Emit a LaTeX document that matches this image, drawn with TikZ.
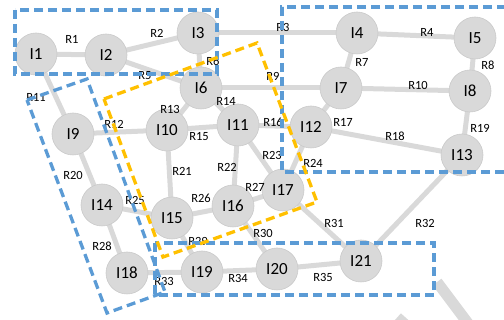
\documentclass[tikz,border=0pt]{standalone}
\usepackage{fontspec}
\setmainfont{Carlito}
\definecolor{nodegray}{HTML}{D9D9D9}
\definecolor{nodeedge}{HTML}{CACACA}
\definecolor{linkgray}{HTML}{D9D9D9}
\definecolor{boxblue}{HTML}{5B9BD5}
\definecolor{boxyellow}{HTML}{FFC000}
\pgfdeclarelayer{bg}
\pgfsetlayers{bg,main}
\begin{document}
\begin{tikzpicture}[x=1pt,y=-1pt,
 inode/.style={circle,fill=nodegray,draw=nodeedge,line width=0.6pt,minimum size=42pt,inner sep=0pt,font=\fontsize{17}{17}\selectfont},
 link/.style={draw=linkgray,line width=5pt},
 rlab/.style={font=\fontsize{12.5}{12.5}\selectfont,inner sep=0pt},
 bluebox/.style={draw=boxblue,line width=3.3pt,dash pattern=on 9pt off 5pt},
 yelbox/.style={draw=boxyellow,line width=3.3pt,dash pattern=on 9pt off 5pt},
 band/.style={draw=linkgray,line width=11pt}]
\useasboundingbox (0,0) rectangle (504,320);
\clip (0,0) rectangle (504,320);
% nodes
\node[inode] (I1) at (36,54) {I1};
\node[inode] (I2) at (106,55) {I2};
\node[inode] (I3) at (198,33) {I3};
\node[inode] (I4) at (357,33) {I4};
\node[inode] (I5) at (475,38) {I5};
\node[inode] (I6) at (201,88) {I6};
\node[inode] (I7) at (341,88) {I7};
\node[inode] (I8) at (470,91) {I8};
\node[inode] (I9) at (73,134) {I9};
\node[inode] (I10) at (167,130) {I10};
\node[inode] (I11) at (238,125) {I11};
\node[inode] (I12) at (311,127) {I12};
\node[inode] (I13) at (462,155) {I13};
\node[inode] (I14) at (102,205) {I14};
\node[inode] (I15) at (172,218) {I15};
\node[inode] (I16) at (233,206) {I16};
\node[inode] (I17) at (283,190) {I17};
\node[inode] (I18) at (127,273) {I18};
\node[inode] (I19) at (202,272) {I19};
\node[inode] (I20) at (277,269) {I20};
\node[inode] (I21) at (361,261) {I21};
% links
\begin{pgfonlayer}{bg}
\draw[band] (437,282) -- (476,334);
\draw[band] (405,317) -- (380,345);
\draw[link] (I1.center) -- (I2.center);
\draw[link] (I2.center) -- (I3.center);
\draw[link] (I3.center) -- (I4.center);
\draw[link] (I4.center) -- (I5.center);
\draw[link] (I2.center) -- (I6.center);
\draw[link] (I3.center) -- (I6.center);
\draw[link] (I4.center) -- (I7.center);
\draw[link] (I5.center) -- (I8.center);
\draw[link] (I6.center) -- (I7.center);
\draw[link] (I7.center) -- (I8.center);
\draw[link] (I1.center) -- (I9.center);
\draw[link] (I9.center) -- (I10.center);
\draw[link] (I10.center) -- (I6.center);
\draw[link] (I6.center) -- (I11.center);
\draw[link] (I10.center) -- (I11.center);
\draw[link] (I11.center) -- (I12.center);
\draw[link] (I12.center) -- (I7.center);
\draw[link] (I12.center) -- (I13.center);
\draw[link] (I8.center) -- (I13.center);
\draw[link] (I9.center) -- (I14.center);
\draw[link] (I10.center) -- (I15.center);
\draw[link] (I11.center) -- (I16.center);
\draw[link] (I11.center) -- (I17.center);
\draw[link] (I12.center) -- (I17.center);
\draw[link] (I14.center) -- (I15.center);
\draw[link] (I15.center) -- (I16.center);
\draw[link] (I16.center) -- (I17.center);
\draw[link] (I14.center) -- (I18.center);
\draw[link] (I15.center) -- (I19.center);
\draw[link] (I16.center) -- (I20.center);
\draw[link] (I17.center) -- (I21.center);
\draw[link] (I13.center) -- (I21.center);
\draw[link] (I18.center) -- (I19.center);
\draw[link] (I19.center) -- (I20.center);
\draw[link] (I20.center) -- (I21.center);
\end{pgfonlayer}
% labels
\node[rlab] (R1) at (72,39) {R1};
\node[rlab] (R2) at (157,33) {R2};
\node[rlab] (R3) at (283,27) {R3};
\node[rlab] (R4) at (427,32) {R4};
\node[rlab] (R5) at (145,76) {R5};
\node[rlab] (R6) at (213,61) {R6};
\node[rlab] (R7) at (362,62) {R7};
\node[rlab] (R8) at (488,65) {R8};
\node[rlab] (R9) at (273,76) {R9};
\node[rlab] (R10) at (418,85) {R10};
\node[rlab] (R11) at (36,97) {R11};
\node[rlab] (R12) at (114,124) {R12};
\node[rlab] (R13) at (170,109) {R13};
\node[rlab] (R14) at (226,101) {R14};
\node[rlab] (R15) at (199,137) {R15};
\node[rlab] (R16) at (273,122) {R16};
\node[rlab] (R17) at (343,122) {R17};
\node[rlab] (R18) at (395,136) {R18};
\node[rlab] (R19) at (480,128) {R19};
\node[rlab] (R20) at (73,175) {R20};
\node[rlab] (R21) at (182,171) {R21};
\node[rlab] (R22) at (227,167) {R22};
\node[rlab] (R23) at (272,155) {R23};
\node[rlab] (R24) at (313,163) {R24};
\node[rlab] (R25) at (135,200) {R25};
\node[rlab] (R26) at (201,198) {R26};
\node[rlab] (R27) at (255,187) {R27};
\node[rlab] (R28) at (102,246) {R28};
\node[rlab] (R29) at (198,241) {R29};
\node[rlab] (R30) at (263,233) {R30};
\node[rlab] (R31) at (334,223) {R31};
\node[rlab] (R32) at (425,223) {R32};
\node[rlab] (R33) at (164,281) {R33};
\node[rlab] (R34) at (238,278) {R34};
\node[rlab] (R35) at (323,277) {R35};
% group boxes
\draw[bluebox] (15,10) rectangle (217,74);
\draw[bluebox] (520,7) -- (282,7) -- (282,172) -- (520,172);
\draw[bluebox] (155,243) rectangle (434,295);
\draw[bluebox] (27,100) -- (87,79) -- (165,292) -- (107,313) -- cycle;
\draw[yelbox] (104,99) -- (257,43) -- (317,202) -- (163,257) -- cycle;
\end{tikzpicture}
\end{document}
